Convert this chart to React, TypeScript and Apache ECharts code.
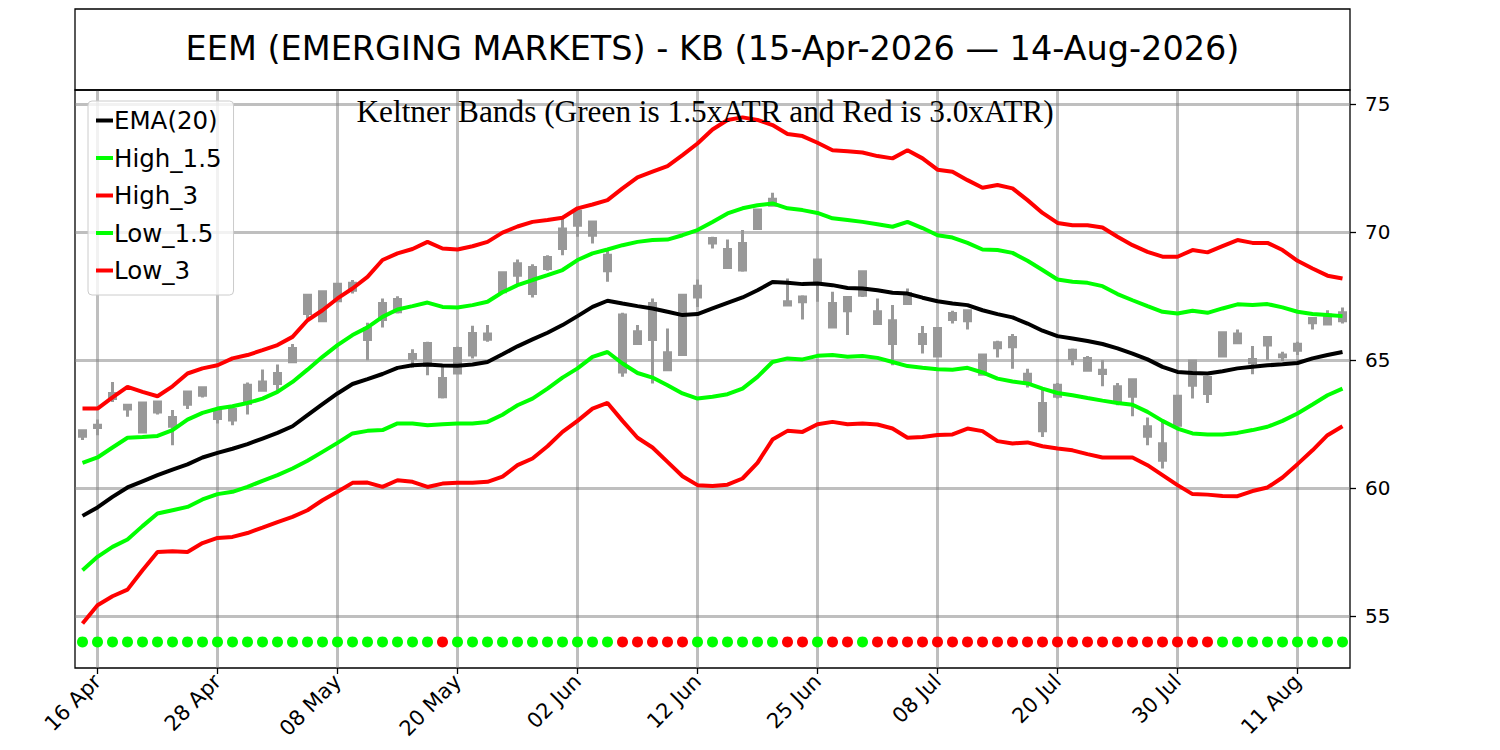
import React, { useEffect, useRef } from "react";
import * as echarts from "echarts";

// Trading days 15-Apr-2026 .. 14-Aug-2026
const DATES = [
  "15 Apr","16 Apr","17 Apr","20 Apr","21 Apr","22 Apr","23 Apr","24 Apr","27 Apr","28 Apr","29 Apr","30 Apr",
  "01 May","04 May","05 May","06 May","07 May","08 May","11 May","12 May","13 May","14 May","15 May","18 May","19 May","20 May","21 May","22 May","26 May","27 May","28 May","29 May",
  "01 Jun","02 Jun","03 Jun","04 Jun","05 Jun","08 Jun","09 Jun","10 Jun","11 Jun","12 Jun","15 Jun","16 Jun","17 Jun","18 Jun","22 Jun","23 Jun","24 Jun","25 Jun","26 Jun","29 Jun","30 Jun",
  "01 Jul","02 Jul","06 Jul","07 Jul","08 Jul","09 Jul","10 Jul","13 Jul","14 Jul","15 Jul","16 Jul","17 Jul","20 Jul","21 Jul","22 Jul","23 Jul","24 Jul","27 Jul","28 Jul","29 Jul","30 Jul","31 Jul",
  "03 Aug","04 Aug","05 Aug","06 Aug","07 Aug","10 Aug","11 Aug","12 Aug","13 Aug","14 Aug",
];

const EMA20 = [
  58.92,59.25,59.66,60.03,60.27,60.51,60.73,60.93,61.20,61.38,61.54,61.72,61.94,62.16,62.42,62.85,63.28,63.70,64.07,64.26,
  64.46,64.70,64.80,64.83,64.79,64.78,64.83,64.93,65.23,65.54,65.81,66.07,66.37,66.72,67.08,67.32,67.21,67.11,67.02,66.89,
  66.76,66.80,67.02,67.24,67.45,67.73,68.05,68.02,67.97,67.99,67.93,67.82,67.80,67.73,67.63,67.60,67.44,67.30,67.21,67.15,
  66.95,66.80,66.67,66.43,66.15,65.94,65.85,65.75,65.63,65.46,65.26,65.03,64.74,64.54,64.50,64.48,64.57,64.68,64.74,64.80,
  64.84,64.89,65.07,65.20,65.32,
];
const HIGH_15 = [
  60.99,61.20,61.59,61.97,62.00,62.04,62.27,62.68,62.94,63.11,63.20,63.33,63.50,63.76,64.15,64.63,65.13,65.59,65.98,66.28,
  66.69,66.98,67.11,67.25,67.08,67.06,67.15,67.28,67.65,67.93,68.13,68.32,68.52,68.91,69.17,69.32,69.49,69.62,69.69,69.71,
  69.88,70.08,70.40,70.73,70.93,71.05,71.12,70.93,70.86,70.75,70.54,70.47,70.40,70.31,70.21,70.40,70.16,69.88,69.79,69.58,
  69.32,69.30,69.19,68.88,68.52,68.15,68.06,68.02,67.89,67.58,67.34,67.11,66.89,66.82,66.93,66.85,67.02,67.18,67.15,67.19,
  67.06,66.89,66.80,66.76,66.72,
];
const HIGH_3 = [
  63.11,63.11,63.55,63.96,63.76,63.59,63.98,64.48,64.68,64.80,65.07,65.20,65.39,65.59,65.91,66.56,66.95,67.41,67.80,68.25,
  68.91,69.17,69.34,69.62,69.36,69.32,69.45,69.62,69.98,70.22,70.40,70.47,70.56,70.93,71.08,71.25,71.71,72.14,72.36,72.58,
  73.01,73.46,74.01,74.38,74.48,74.38,74.18,73.83,73.75,73.49,73.20,73.16,73.11,72.97,72.88,73.20,72.88,72.44,72.36,72.03,
  71.73,71.84,71.71,71.25,70.75,70.36,70.27,70.27,70.18,69.82,69.49,69.23,69.04,69.04,69.30,69.21,69.45,69.69,69.58,69.58,
  69.30,68.88,68.58,68.30,68.19,
];
const LOW_15 = [
  56.80,57.32,57.71,58.00,58.52,59.01,59.14,59.27,59.56,59.77,59.86,60.05,60.29,60.51,60.77,61.07,61.42,61.77,62.14,62.24,
  62.27,62.53,62.53,62.46,62.50,62.53,62.53,62.59,62.87,63.24,63.50,63.89,64.32,64.68,65.13,65.32,64.87,64.50,64.32,64.02,
  63.70,63.50,63.57,63.67,63.89,64.35,64.93,65.07,65.03,65.17,65.20,65.13,65.16,65.09,64.93,64.77,64.70,64.65,64.63,64.70,
  64.52,64.28,64.17,64.09,63.89,63.72,63.63,63.52,63.42,63.33,63.26,62.98,62.63,62.33,62.14,62.10,62.10,62.16,62.27,62.40,
  62.63,62.92,63.27,63.63,63.89,
];
const LOW_3 = [
  54.72,55.43,55.78,56.04,56.80,57.51,57.54,57.51,57.86,58.06,58.10,58.25,58.46,58.68,58.88,59.14,59.53,59.86,60.21,60.22,
  60.05,60.31,60.25,60.05,60.18,60.21,60.21,60.25,60.45,60.90,61.16,61.64,62.20,62.63,63.11,63.33,62.63,61.97,61.59,61.03,
  60.47,60.12,60.09,60.14,60.38,60.99,61.90,62.24,62.20,62.50,62.59,62.50,62.53,62.49,62.33,61.97,62.00,62.08,62.10,62.33,
  62.23,61.84,61.75,61.79,61.64,61.55,61.48,61.33,61.20,61.20,61.20,60.90,60.51,60.12,59.77,59.75,59.70,59.69,59.89,60.03,
  60.42,60.94,61.48,62.07,62.42,
];

// Candles: lower body edge, upper body edge, low, high
const BODY_LOW = [
  62.03,62.37,63.50,63.09,62.20,62.98,62.42,63.28,63.63,62.72,62.66,63.31,63.83,64.09,64.94,66.82,66.54,67.32,67.73,65.81,
  66.59,66.89,65.07,64.80,63.57,64.50,65.20,65.82,67.67,68.32,67.60,68.58,69.36,70.27,69.88,68.49,64.54,65.65,65.81,64.63,
  65.22,67.47,69.58,68.62,68.52,70.14,71.05,67.15,67.28,68.00,66.30,66.93,67.54,66.43,65.65,67.21,65.65,65.16,66.59,66.54,
  64.45,65.49,65.52,64.09,62.24,63.59,65.07,64.61,64.48,63.37,63.59,62.03,61.09,62.46,64.02,63.70,65.16,65.68,64.90,65.59,
  65.13,65.39,66.46,66.41,66.54,
];
const BODY_HIGH = [
  62.24,62.46,63.70,63.24,63.33,63.37,62.76,63.76,63.92,63.05,63.07,64.02,64.15,64.48,65.46,67.54,67.67,67.96,68.00,66.24,
  67.21,67.37,65.22,65.65,64.28,65.46,66.04,66.02,68.41,68.77,68.62,69.01,70.12,70.82,70.40,69.10,66.76,66.11,67.21,65.29,
  67.54,67.89,69.75,69.32,69.56,70.86,71.28,67.28,67.47,68.91,67.21,67.45,68.45,66.89,66.54,67.60,66.00,66.24,66.82,66.93,
  65.20,65.68,65.89,64.45,63.31,64.02,65.39,65.07,64.61,63.96,64.24,62.40,61.74,63.59,64.97,64.32,66.07,66.02,65.03,65.89,
  65.20,65.62,66.63,66.76,66.85,
];
const LOW = [
  61.88,62.07,63.37,62.79,62.16,62.88,61.68,63.09,63.54,62.53,62.46,62.88,63.79,63.83,64.91,66.63,66.50,67.28,67.60,65.00,
  66.28,66.82,64.70,64.41,63.50,64.44,65.07,65.72,67.65,67.93,67.45,68.49,69.10,69.82,69.56,68.06,64.35,65.62,64.09,64.61,
  65.20,67.08,69.36,68.58,68.45,70.12,71.02,67.11,66.59,67.28,66.26,65.98,67.47,66.41,64.80,67.19,65.26,65.14,66.43,66.20,
  64.41,65.10,64.67,63.93,62.00,63.50,64.80,64.59,63.98,63.24,62.81,61.68,60.77,62.29,63.50,63.33,65.13,65.66,64.45,65.00,
  64.97,65.20,66.20,66.37,66.43,
];
const HIGH = [
  62.30,62.68,64.15,63.26,63.37,63.39,63.05,63.79,63.96,63.14,63.09,64.13,64.64,64.83,65.63,67.57,67.70,68.00,68.13,66.46,
  67.41,67.50,65.43,65.72,64.84,65.52,66.34,66.37,68.45,68.93,68.75,69.10,70.51,70.89,70.42,69.27,66.85,66.37,67.41,66.24,
  67.58,68.15,69.82,69.71,70.08,70.89,71.54,68.19,67.54,68.93,67.67,67.47,68.49,67.41,67.15,67.80,66.33,66.26,66.93,66.99,
  65.26,65.76,66.02,64.67,63.85,64.11,65.46,65.16,65.00,64.11,64.26,62.76,62.66,63.61,65.03,64.38,66.11,66.20,65.55,65.91,
  65.33,65.72,66.65,66.95,67.06,
];

// Signal dots: 1 = green, 0 = red
const SIGNAL = [
  1,1,1,1,1,1,1,1,1,1,1,1,1,1,1,1,1,1,1,1,1,1,1,1,0,1,1,1,1,1,
  1,1,1,1,1,1,0,0,0,0,0,1,1,1,1,1,1,0,0,1,0,0,1,0,0,0,0,0,0,0,
  0,0,0,0,0,0,0,0,0,0,0,0,0,0,0,0,1,1,1,1,1,1,1,1,1,
];
const SIGNAL_LEVEL = 54;

const Y_MIN = 52.98;
const Y_MAX = 75.55;
const Y_TICKS = [55, 60, 65, 70, 75];

const TITLE = "EEM (EMERGING MARKETS) - KB (15-Apr-2026 \u2014 14-Aug-2026)";
const SUBTITLE = "Keltner Bands (Green is 1.5xATR and Red is 3.0xATR)";

const GRID_COLOR = "rgba(128,128,128,0.5)";
const SANS = "DejaVu Sans";

export default function App() {
  const ref = useRef<HTMLDivElement>(null);

  useEffect(() => {
    if (!ref.current) return;
    const chart = echarts.init(ref.current, null, { renderer: "svg" });
    const showTick = (index: number) => index % 8 === 1;

    const candles = DATES.map((_, i) => [BODY_LOW[i], BODY_HIGH[i], LOW[i], HIGH[i]]);
    const dots = SIGNAL.map((s) => ({
      value: SIGNAL_LEVEL,
      itemStyle: { color: s ? "#00ff00" : "#ff0000", opacity: 1 },
    }));

    const lineSeries = (name: string, data: number[], color: string) => ({
      name,
      type: "line",
      data,
      showSymbol: false,
      symbol: "none",
      color,
      lineStyle: { color, width: 4 },
      z: 4,
      silent: true,
    });

    const option: any = {
      animation: false,
      backgroundColor: "#ffffff",
      textStyle: { fontFamily: SANS },
      grid: {
        left: 75,
        top: 90,
        width: 1275,
        height: 578,
        show: true,
        borderColor: "#000",
        borderWidth: 1.3,
        backgroundColor: "transparent",
      },
      legend: {
        data: ["EMA(20)", "High_1.5", "High_3", "Low_1.5", "Low_3"],
        orient: "vertical",
        left: 88,
        top: 101,
        icon: "rect",
        itemWidth: 17,
        itemHeight: 4,
        itemGap: 12.5,
        padding: [7, 12, 12, 8],
        backgroundColor: "rgba(255,255,255,0.8)",
        borderColor: "#cccccc",
        borderWidth: 1,
        borderRadius: 4,
        selectedMode: false,
        textStyle: {
          fontFamily: SANS,
          fontSize: 24.5,
          color: "#000",
          lineHeight: 25,
          padding: [0, 0, 0, -4],
        },
        z: 10,
      },
      xAxis: {
        type: "category",
        data: DATES,
        boundaryGap: true,
        axisLine: { show: false },
        axisTick: {
          show: true,
          alignWithLabel: true,
          interval: showTick,
          length: 6,
          lineStyle: { color: "#000", width: 1.3 },
        },
        axisLabel: {
          interval: showTick,
          rotate: 45,
          margin: 10,
          fontFamily: SANS,
          fontSize: 21,
          color: "#000",
        },
        splitLine: {
          show: true,
          interval: showTick,
          alignWithLabel: true,
          lineStyle: { color: GRID_COLOR, width: 3 },
        },
      },
      yAxis: {
        type: "value",
        position: "right",
        min: Y_MIN,
        max: Y_MAX,
        minInterval: 5,
        maxInterval: 5,
        axisLine: { show: false },
        axisTick: {
          show: true,
          length: 6,
          customValues: Y_TICKS,
          lineStyle: { color: "#000", width: 1.3 },
        },
        axisLabel: {
          margin: 15,
          fontFamily: SANS,
          fontSize: 20,
          color: "#000",
          customValues: Y_TICKS,
        },
        splitLine: {
          show: true,
          lineStyle: { color: GRID_COLOR, width: 3 },
        },
      },
      series: [
        {
          name: "Candles",
          type: "candlestick",
          data: candles,
          barWidth: 7,
          itemStyle: {
            color: "#999999",
            color0: "#999999",
            borderColor: "#999999",
            borderColor0: "#999999",
            borderWidth: 3,
          },
          z: 3,
          silent: true,
        },
        lineSeries("EMA(20)", EMA20, "#000000"),
        lineSeries("High_1.5", HIGH_15, "#00ff00"),
        lineSeries("High_3", HIGH_3, "#ff0000"),
        lineSeries("Low_1.5", LOW_15, "#00ff00"),
        lineSeries("Low_3", LOW_3, "#ff0000"),
        {
          name: "Signal",
          type: "scatter",
          data: dots,
          symbol: "circle",
          symbolSize: 11,
          itemStyle: { opacity: 1 },
          z: 4,
          silent: true,
        },
      ],
      graphic: [
        {
          type: "rect",
          shape: { x: 75, y: 9, width: 1275, height: 81 },
          style: { fill: "none", stroke: "#000", lineWidth: 1.3 },
          z: 20,
        },
        {
          type: "text",
          x: 712.5,
          y: 48,
          style: {
            text: TITLE,
            fontFamily: SANS,
            fontSize: 33.5,
            fill: "#000",
            textAlign: "center",
            textVerticalAlign: "middle",
            verticalAlign: "middle",
          },
          z: 20,
        },
        {
          type: "text",
          x: 705,
          y: 111,
          style: {
            text: SUBTITLE,
            fontFamily: "Liberation Serif",
            fontSize: 31.3,
            fill: "#000",
            textAlign: "center",
            textVerticalAlign: "middle",
            verticalAlign: "middle",
          },
          z: 20,
        },
      ],
    };

    chart.setOption(option);
    return () => chart.dispose();
  }, []);

  return (
    <div
      ref={ref}
      style={{ position: "fixed", left: 0, top: 0, width: 1500, height: 750, background: "#fff" }}
    />
  );
}
